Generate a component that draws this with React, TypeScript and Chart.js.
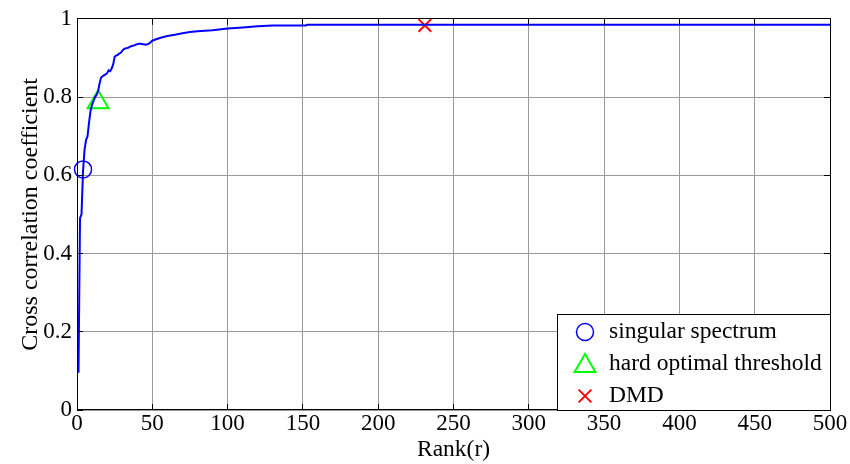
import React, { useEffect, useRef } from 'react';
import { Chart, registerables } from 'chart.js';

Chart.register(...registerables);

const ranks = [1, 2, 3, 4, 5, 6, 7, 8, 9, 10, 11, 12, 13, 14, 15, 16, 17, 18, 19, 20, 21, 22, 23, 24, 25, 26, 27, 28, 29, 30, 31, 32, 33, 34, 35, 36, 37, 38, 39, 40, 41, 42, 44, 46, 48, 50, 52, 55, 60, 65, 70, 75, 80, 90, 100, 110, 120, 130, 140, 152, 153, 500];
const corr = [0.095, 0.49, 0.5, 0.61, 0.665, 0.69, 0.7, 0.735, 0.765, 0.78, 0.79, 0.8, 0.805, 0.815, 0.835, 0.85, 0.853, 0.856, 0.858, 0.861, 0.868, 0.866, 0.873, 0.883, 0.903, 0.906, 0.908, 0.911, 0.913, 0.918, 0.922, 0.924, 0.925, 0.926, 0.928, 0.93, 0.931, 0.932, 0.934, 0.935, 0.936, 0.936, 0.935, 0.934, 0.937, 0.944, 0.947, 0.951, 0.956, 0.959, 0.963, 0.966, 0.968, 0.971, 0.975, 0.978, 0.981, 0.983, 0.983, 0.983, 0.985, 0.985];

const markerLabels = ['singular spectrum', 'hard optimal threshold', 'DMD'];
const markerRanks = [4, 14, 231];
const markerValues = [0.615, 0.787, 0.983];
const markerColors = ['#0000ff', '#00ff00', '#ff0000'];
const markerStyles = ['circle', 'triangle', 'crossRot'];
const markerRadii = [8.5, 12, 9];
const markerWidths = [1.5, 2, 2];

const xTicks = [0, 50, 100, 150, 200, 250, 300, 350, 400, 450, 500];
const yTicks = [0, 0.2, 0.4, 0.6, 0.8, 1];

const xTitle = 'Rank(r)';
const yTitle = 'Cross correlation coefficient';

const FONT = "'Times New Roman', 'Liberation Serif', serif";

function align(p: number) {
  return Math.round(p - 0.5) + 0.5;
}

function drawMarker(ctx: CanvasRenderingContext2D, style: string, x: number, y: number, r: number) {
  ctx.beginPath();
  if (style === 'circle') {
    ctx.arc(x, y, r, 0, Math.PI * 2);
    ctx.closePath();
  } else if (style === 'triangle') {
    let rad = 0;
    ctx.moveTo(x + Math.sin(rad) * r, y - Math.cos(rad) * r);
    rad += (2 * Math.PI) / 3;
    ctx.lineTo(x + Math.sin(rad) * r, y - Math.cos(rad) * r);
    rad += (2 * Math.PI) / 3;
    ctx.lineTo(x + Math.sin(rad) * r, y - Math.cos(rad) * r);
    ctx.closePath();
  } else {
    const o = Math.cos(Math.PI / 4) * r;
    ctx.moveTo(x - o, y - o);
    ctx.lineTo(x + o, y + o);
    ctx.moveTo(x + o, y - o);
    ctx.lineTo(x - o, y + o);
  }
  ctx.stroke();
}

const framePlugin = {
  id: 'matlabFrame',
  afterDatasetsDraw(chart: any) {
    const { ctx, chartArea: a, scales } = chart;
    ctx.save();
    ctx.strokeStyle = '#000';
    ctx.lineWidth = 1;
    const tl = 6;
    ctx.beginPath();
    xTicks.forEach((v) => {
      const px = align(scales.x.getPixelForValue(v));
      ctx.moveTo(px, a.top);
      ctx.lineTo(px, a.top + tl);
      ctx.moveTo(px, a.bottom);
      ctx.lineTo(px, a.bottom - tl);
    });
    yTicks.forEach((v) => {
      const py = align(scales.y.getPixelForValue(v));
      ctx.moveTo(a.left, py);
      ctx.lineTo(a.left + tl, py);
      ctx.moveTo(a.right, py);
      ctx.lineTo(a.right - tl, py);
    });
    ctx.stroke();
    ctx.strokeRect(align(a.left), align(a.top), Math.round(a.right - a.left), Math.round(a.bottom - a.top));
    ctx.restore();
  },
  afterDraw(chart: any) {
    const { ctx, chartArea: a } = chart;
    ctx.save();
    const lx0 = 557;
    const ly0 = 314;
    const lx1 = Math.round(a.right);
    const ly1 = Math.round(a.bottom);
    ctx.fillStyle = '#fff';
    ctx.fillRect(lx0, ly0, lx1 - lx0, ly1 - ly0);
    ctx.strokeStyle = '#000';
    ctx.lineWidth = 1;
    ctx.strokeRect(lx0 + 0.5, ly0 + 0.5, lx1 - lx0, ly1 - ly0);
    const rowH = (ly1 - ly0) / 3;
    ctx.font = `23.5px ${FONT}`;
    ctx.textBaseline = 'middle';
    ctx.textAlign = 'left';
    markerLabels.forEach((label, i) => {
      const cy = ly0 + rowH * (i + 0.5) + 2;
      ctx.strokeStyle = markerColors[i];
      ctx.lineWidth = markerWidths[i];
      drawMarker(ctx, markerStyles[i], 585, cy + (markerStyles[i] === 'triangle' ? 2 : 0), markerRadii[i]);
      ctx.fillStyle = '#000';
      ctx.fillText(label, 609, cy);
    });
    ctx.restore();
  },
};

export default function App() {
  const ref = useRef<HTMLCanvasElement | null>(null);

  useEffect(() => {
    if (!ref.current) return;
    const lineData = ranks.map((r, i) => ({ x: r, y: corr[i] }));
    const markerSets = markerLabels.map((label, i) => ({
      label,
      data: [{ x: markerRanks[i], y: markerValues[i] }],
      showLine: false,
      clip: false as any,
      pointStyle: markerStyles[i],
      pointRadius: markerRadii[i],
      pointBorderColor: markerColors[i],
      pointBackgroundColor: 'rgba(0,0,0,0)',
      pointBorderWidth: markerWidths[i],
      borderColor: markerColors[i],
      backgroundColor: 'rgba(0,0,0,0)',
    }));
    const chart = new Chart(ref.current, {
      type: 'line',
      data: {
        datasets: [
          {
            label: 'curve',
            data: lineData,
            borderColor: '#0000ff',
            borderWidth: 2,
            pointRadius: 0,
            tension: 0,
            fill: false,
          },
          ...markerSets,
        ] as any,
      },
      options: {
        responsive: false,
        animation: false,
        events: [],
        layout: { padding: { top: 17, right: 20, left: 0, bottom: 0 } },
        plugins: {
          legend: { display: false },
          tooltip: { enabled: false },
        },
        scales: {
          x: {
            type: 'linear',
            min: 0,
            max: 500,
            afterFit: (s: any) => {
              s.height = 54;
            },
            afterBuildTicks: (s: any) => {
              s.ticks = xTicks.map((v) => ({ value: v }));
            },
            ticks: {
              autoSkip: false,
              maxRotation: 0,
              color: '#000',
              padding: 0,
              font: { family: FONT, size: 23 },
              callback: (v: any) => String(v),
            },
            grid: { color: '#9a9a9a', lineWidth: 1, drawTicks: false },
            border: { display: false },
            title: {
              display: true,
              text: xTitle,
              color: '#000',
              font: { family: FONT, size: 23.5 },
              padding: { top: 0, bottom: 0 },
            },
          },
          y: {
            type: 'linear',
            min: 0,
            max: 1,
            afterFit: (s: any) => {
              s.width = 77;
            },
            afterBuildTicks: (s: any) => {
              s.ticks = yTicks.map((v) => ({ value: v }));
            },
            ticks: {
              autoSkip: false,
              color: '#000',
              padding: 5,
              font: { family: FONT, size: 23 },
              callback: (v: any) => String(Math.round(Number(v) * 10) / 10),
            },
            grid: { color: '#9a9a9a', lineWidth: 1, drawTicks: false },
            border: { display: false },
            title: {
              display: true,
              text: yTitle,
              color: '#000',
              font: { family: FONT, size: 24 },
              padding: { top: 16, bottom: 0 },
            },
          },
        },
      },
      plugins: [framePlugin],
    });
    return () => chart.destroy();
  }, []);

  return (
    <div style={{ position: 'absolute', left: 0, top: 0, width: 850, height: 464, background: '#fff' }}>
      <canvas ref={ref} width={850} height={464} style={{ display: 'block', width: 850, height: 464 }} />
    </div>
  );
}
